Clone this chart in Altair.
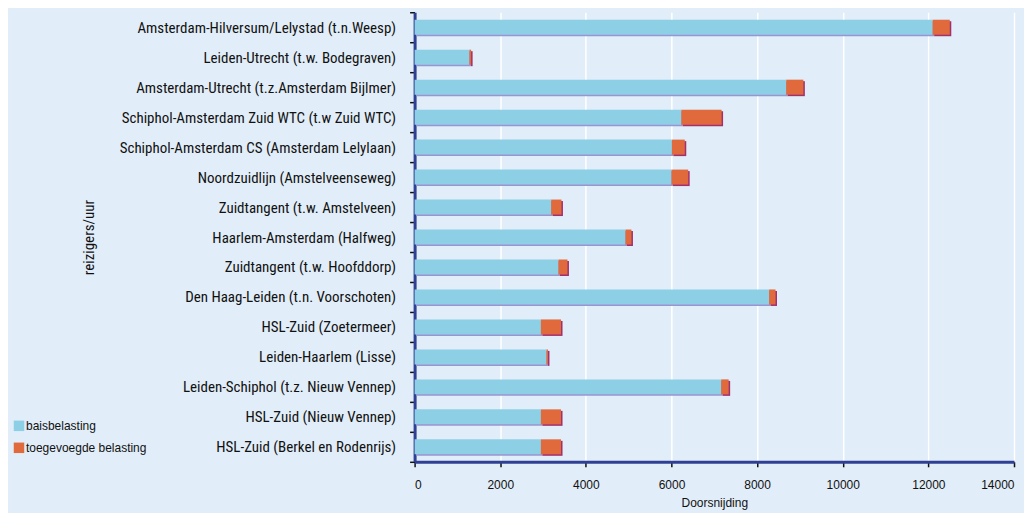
import altair as alt
import pandas as pd

routes = [
    "Amsterdam-Hilversum/Lelystad (t.n.Weesp)",
    "Leiden-Utrecht (t.w. Bodegraven)",
    "Amsterdam-Utrecht (t.z.Amsterdam Bijlmer)",
    "Schiphol-Amsterdam Zuid WTC (t.w Zuid WTC)",
    "Schiphol-Amsterdam CS (Amsterdam Lelylaan)",
    "Noordzuidlijn (Amstelveenseweg)",
    "Zuidtangent (t.w. Amstelveen)",
    "Haarlem-Amsterdam (Halfweg)",
    "Zuidtangent (t.w. Hoofddorp)",
    "Den Haag-Leiden (t.n. Voorschoten)",
    "HSL-Zuid (Zoetermeer)",
    "Leiden-Haarlem (Lisse)",
    "Leiden-Schiphol (t.z. Nieuw Vennep)",
    "HSL-Zuid (Nieuw Vennep)",
    "HSL-Zuid (Berkel en Rodenrijs)",
]
basis = [12100, 1280, 8680, 6230, 6010, 6000, 3190, 4925, 3360, 8280, 2950, 3080, 7160, 2950, 2950]
toegevoegd = [400, 40, 400, 940, 300, 390, 240, 140, 210, 150, 470, 35, 175, 470, 470]
series = ["baisbelasting", "toegevoegde belasting"]
colors = ["#8DD0E6", "#E06A3C"]
shadow_colors = ["#9A94D2", "#A3306E"]
x_ticks = [0, 2000, 4000, 6000, 8000, 10000, 12000, 14000]

rows = []
for r, b, t in zip(routes, basis, toegevoegd):
    rows.append({"route": r, "serie": series[0], "waarde": b, "volg": 0})
    rows.append({"route": r, "serie": series[1], "waarde": t, "volg": 1})
df = pd.DataFrame(rows)

label_font = "Liberation Sans Narrow, Roboto Condensed, Roboto, sans-serif"
arial = "Liberation Sans, Arial, sans-serif"

x_enc = alt.X(
    "sum(waarde):Q",
    stack="zero",
    scale=alt.Scale(domain=[0, 14000]),
    axis=alt.Axis(
        values=x_ticks, format="d",
        title="Doorsnijding",
        grid=True, gridColor="#FFFFFF", gridWidth=1.5,
        domainColor="#2E3F94", domainWidth=3,
        tickColor="#111111", tickWidth=1.5, tickSize=5,
        labelFont=arial, labelFontSize=12, labelColor="#111111",
        labelPadding=13,
        titleFont=arial, titleFontSize=12, titleFontWeight="normal",
        titleColor="#111111", titlePadding=7,
    ),
)
y_enc = alt.Y(
    "route:N",
    sort=routes,
    scale=alt.Scale(paddingInner=0, paddingOuter=0),
    axis=alt.Axis(
        title="reizigers/uur",
        tickBand="extent",
        domainColor="#2E3F94", domainWidth=3,
        tickColor="#111111", tickWidth=1.5, tickSize=5,
        labelFont=label_font, labelFontSize=15, labelColor="#111111", labelPadding=14,
        labelLimit=400,
        titleFont=label_font, titleFontSize=15, titleFontWeight="normal", titleColor="#111111",
        titleX=-318, titleY=225, titleAlign="center", titleAngle=-90,
    ),
)

shadow = alt.Chart(df).mark_bar(size=15, xOffset=1.5, yOffset=1.5).encode(
    x=x_enc, y=y_enc,
    color=alt.Color("serie:N", scale=alt.Scale(domain=series, range=shadow_colors), legend=None),
    order=alt.Order("volg:Q"),
)

bars = alt.Chart(df).mark_bar(size=15).encode(
    x=x_enc, y=y_enc,
    color=alt.Color(
        "serie:N",
        scale=alt.Scale(domain=series, range=colors),
        legend=alt.Legend(
            title=None, orient="none", legendX=-402, legendY=408,
            symbolType="square", symbolSize=110, symbolStrokeWidth=0, symbolOpacity=1,
            labelFont=arial, labelFontSize=12, labelColor="#111111",
            labelOffset=1, rowPadding=10,
        ),
    ),
    order=alt.Order("volg:Q"),
)

chart = (
    alt.layer(shadow, bars)
    .resolve_scale(color="independent")
    .properties(
        width=600, height=450,
        background="#E1EDF8",
        padding={"left": 407, "top": 4, "right": 10, "bottom": 51},
        autosize=alt.AutoSizeParams(type="none"),
    )
    .configure_view(stroke=None, fill="#E1EDF8")
)

chart.save("out.html", embed_options={"renderer": "svg", "actions": False})
